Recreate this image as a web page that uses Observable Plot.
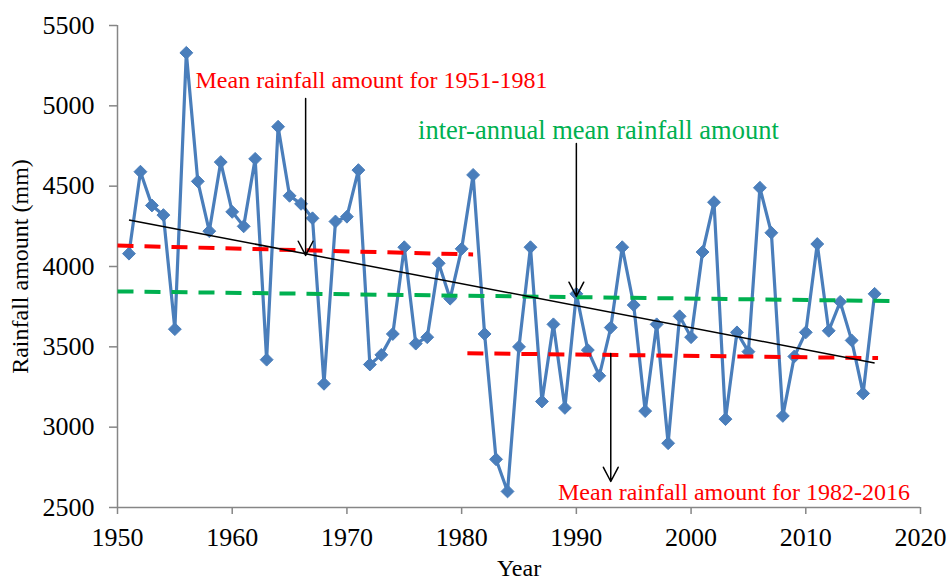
<!DOCTYPE html>
<html>
<head>
<meta charset="utf-8">
<script src="https://cdn.jsdelivr.net/npm/d3@7"></script>
<script src="https://cdn.jsdelivr.net/npm/@observablehq/plot@0.6"></script>
<style>
  html, body { margin: 0; padding: 0; background: #fff; }
  #chart svg { display: block; }
  #chart svg, #chart svg text { font-family: "Liberation Serif", "Times New Roman", serif !important; }
</style>
</head>
<body>
<div id="chart"></div>
<script>
const years = [1951,1952,1953,1954,1955,1956,1957,1958,1959,1960,1961,1962,1963,1964,1965,1966,1967,1968,1969,1970,
  1971,1972,1973,1974,1975,1976,1977,1978,1979,1980,1981,1982,1983,1984,1985,1986,1987,1988,1989,1990,
  1991,1992,1993,1994,1995,1996,1997,1998,1999,2000,2001,2002,2003,2004,2005,2006,2007,2008,2009,2010,
  2011,2012,2013,2014,2015,2016];
const rainfall = [4080,4590,4380,4320,3610,5330,4530,4220,4650,4340,4250,4670,3420,4870,4440,4390,4300,3270,4280,4310,
  4600,3390,3450,3580,4120,3520,3560,4020,3800,4110,4570,3580,2800,2600,3500,4120,3160,3640,3120,3830,
  3480,3320,3620,4120,3760,3100,3640,2900,3690,3560,4090,4400,3050,3590,3470,4490,4210,3070,3440,3590,
  4140,3600,3780,3540,3210,3830];

// reference lines: [x1, y1, x2, y2]
const trendLine = [1951, 4290, 2016, 3400];
const mean1951_1981 = [1950, 4130, 1981, 4075];
const mean1982_2016 = [1980.5, 3460, 2016.3, 3430];
const meanAll = [1950, 3845, 2017.4, 3785];

// annotations
const labelTexts = ["Mean rainfall amount for 1951-1981", "inter-annual mean rainfall amount", "Mean rainfall amount for 1982-2016"];
const labelX = [1956.8, 1976.2, 1988.4];
const labelY = [5158, 4847, 2594];
const labelColors = ["#ff0000", "#00b050", "#ff0000"];
const labelSizes = [24, 26.5, 24];
const arrowX = [1966.4, 1990.0, 1993.0];
const arrowY1 = [5046, 4766, 3459];
const arrowY2 = [4069, 3814, 2662];

const xTicks = [1950,1960,1970,1980,1990,2000,2010,2020];
const yTicks = [2500,3000,3500,4000,4500,5000,5500];

const series = years.map((y, i) => ({year: y, value: rainfall[i]}));
const seg = (a) => [{x1: a[0], y1: a[1], x2: a[2], y2: a[3]}];
const labels = labelTexts.map((t, i) => ({text: t, x: labelX[i], y: labelY[i], color: labelColors[i], size: labelSizes[i]}));
const arrows = arrowX.map((x, i) => ({x, y1: arrowY1[i], y2: arrowY2[i]}));

const blue = "#4a7ebb";
const axisGray = "#868686";
const serif = "Liberation Serif";

const chart = Plot.plot({
  width: 949,
  height: 581,
  marginLeft: 117,
  marginRight: 29,
  marginTop: 25,
  marginBottom: 74,
  style: {fontFamily: serif, fontSize: "26px", color: "#000", background: "#fff"},
  x: {domain: [1950, 2020], ticks: xTicks, tickFormat: d => String(d)},
  y: {domain: [2500, 5500], ticks: yTicks, tickFormat: d => String(d)},
  marks: [
    Plot.axisX({ticks: xTicks, tickFormat: d => String(d), tickSize: 7, tickPadding: 13, stroke: axisGray, strokeWidth: 1.5, fontSize: 26, fontFamily: serif, label: null}),
    Plot.axisY({ticks: yTicks, tickFormat: d => String(d), tickSize: 8, tickPadding: 15, stroke: axisGray, strokeWidth: 1.5, fontSize: 26, fontFamily: serif, label: null}),
    Plot.ruleY([2500], {stroke: axisGray, strokeWidth: 1.5}),
    Plot.ruleX([1950], {stroke: axisGray, strokeWidth: 1.5}),
    Plot.line(series, {x: "year", y: "value", stroke: blue, strokeWidth: 3.2}),
    Plot.dot(series, {x: "year", y: "value", symbol: "diamond2", r: 5.8, fill: blue, stroke: blue, strokeWidth: 1}),
    Plot.link(seg(mean1951_1981), {x1: "x1", y1: "y1", x2: "x2", y2: "y2", stroke: "#ff0000", strokeWidth: 4, strokeDasharray: "16,11"}),
    Plot.link(seg(mean1982_2016), {x1: "x1", y1: "y1", x2: "x2", y2: "y2", stroke: "#ff0000", strokeWidth: 4, strokeDasharray: "16,11"}),
    Plot.link(seg(meanAll), {x1: "x1", y1: "y1", x2: "x2", y2: "y2", stroke: "#00b050", strokeWidth: 4, strokeDasharray: "16,11"}),
    Plot.link(seg(trendLine), {x1: "x1", y1: "y1", x2: "x2", y2: "y2", stroke: "#000", strokeWidth: 1.5}),
    Plot.arrow(arrows, {x: "x", y1: "y1", y2: "y2", stroke: "#000", strokeWidth: 1.5, headLength: 16, headAngle: 55}),
    Plot.text(labels.filter(d => d.size === 24), {x: "x", y: "y", text: "text", fill: d => d.color, textAnchor: "start", fontSize: 24, fontFamily: serif}),
    Plot.text(labels.filter(d => d.size !== 24), {x: "x", y: "y", text: "text", fill: d => d.color, textAnchor: "start", fontSize: 26.5, fontFamily: serif}),
    Plot.text(["Year"], {frameAnchor: "bottom", dy: 68, fontSize: 24, fontFamily: serif, text: d => d}),
    Plot.text(["Rainfall amount (mm)"], {frameAnchor: "left", dx: -97, textAnchor: "middle", rotate: -90, fontSize: 24, fontFamily: serif, text: d => d})
  ]
});
document.getElementById("chart").appendChild(chart);
</script>
</body>
</html>
